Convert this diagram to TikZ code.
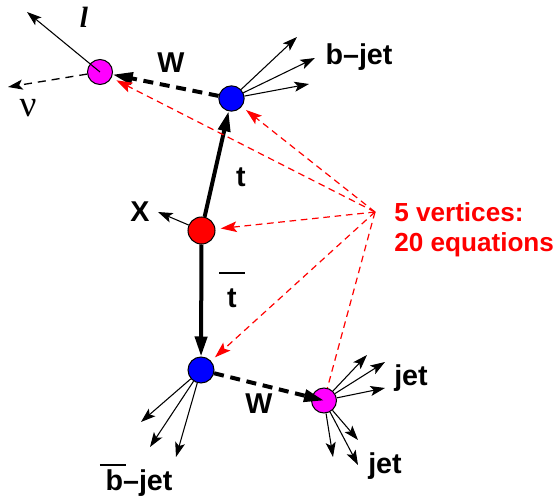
\documentclass[tikz,border=0pt]{standalone}
\usepackage{fontspec}
\setmainfont{Liberation Sans}
\newfontfamily\serifface{Liberation Serif}
\usetikzlibrary{arrows.meta,calc}
\definecolor{vmag}{RGB}{255,0,255}

\begin{document}
\begin{tikzpicture}[x=0.75pt,y=-0.75pt,
  vertex/.style={circle,draw,line width=0.75pt,inner sep=0pt,minimum size=18.75pt},
  lab/.style={font=\bfseries\fontsize{21.5}{24}\selectfont,inner sep=0pt,anchor=base},
  note/.style={font=\bfseries\fontsize{19.6}{22}\selectfont,text=red,inner sep=0pt,anchor=base west},
  quark/.style={line width=3pt,-{Triangle[length=15pt,width=9pt]}},
  wboson/.style={line width=3pt,dash pattern=on 7.5pt off 5pt,-{Triangle[length=15pt,width=9pt]}},
  jetarr/.style={line width=0.8pt,-{Stealth[length=11pt,width=7.5pt,inset=2.5pt]}},
  constr/.style={red,line width=0.9pt,dash pattern=on 5pt off 3.5pt,
    -{Stealth[length=12pt,width=8pt,inset=2.5pt]},shorten >=4pt}]
  \useasboundingbox (0,0) rectangle (554,499);
  % Vertices
  \node[vertex,fill=vmag] (wlep) at (100,72) {};
  \node[vertex,fill=blue,minimum size=19pt] (btop) at (231.5,98.5) {};
  \node[vertex,fill=red,minimum size=20.25pt] (prod) at (201.5,230.5) {};
  \node[vertex,fill=blue,minimum size=19.5pt] (bbot) at (201,370) {};
  \node[vertex,fill=vmag] (whad) at (324,400.5) {};
  % Free ends of the outgoing particles
  \coordinate (lep) at (27,12);
  \coordinate (nu) at (8,87);
  \coordinate (x) at (158,212);
  \coordinate (bj1) at (297,37);
  \coordinate (bj2) at (315,58);
  \coordinate (bj3) at (309,84);
  \coordinate (bb1) at (141,422);
  \coordinate (bb2) at (150,447);
  \coordinate (bb3) at (176,457);
  \coordinate (hj1) at (367,355);
  \coordinate (hj2) at (385,362);
  \coordinate (hj3) at (385,388);
  \coordinate (hj4) at (333,457);
  \coordinate (hj5) at (358,440);
  \coordinate (hj6) at (358,465);
  \coordinate (meet) at (375,212);
  % Quarks and W bosons
  \draw[quark] (prod) -- (btop);
  \draw[quark] (prod) -- (bbot);
  \draw[wboson] (btop) -- (wlep);
  \draw[wboson] (bbot) -- (whad.center);
  % Decay products
  \draw[jetarr] (wlep.center) -- (lep);
  \draw[jetarr,line width=1pt,dash pattern=on 6pt off 4.5pt] (wlep) -- (nu);
  \draw[jetarr] (prod) -- (x);
  \foreach \j in {bj1,bj2,bj3} \draw[jetarr] (btop) -- (\j);
  \foreach \j in {bb1,bb2,bb3} \draw[jetarr] (bbot) -- (\j);
  \foreach \j in {hj1,hj2,hj3,hj4,hj5,hj6} \draw[jetarr] (whad) -- (\j);
  % Constraint pointers
  \foreach \v in {wlep,btop,prod,bbot} \draw[constr] (meet) -- (\v);
  \draw[constr,-,shorten >=0pt] (meet) -- (whad);
  % Labels
  \node[font=\serifface\bfseries\itshape\fontsize{22}{24}\selectfont,inner sep=0pt,anchor=base] (llab) at (84,28) {l};
  \node[font=\serifface\fontsize{28}{30}\selectfont,inner sep=0pt,anchor=base] (nulab) at (28,117) {ν};
  \node[lab] (wtop) at (171,73) {W};
  \node[lab] (bjet) at (359,65) {b--jet};
  \node[lab] (tq) at (241,187) {t};
  \node[lab] (xlab) at (140,222) {X};
  \node[lab] (tbar) at (232,308) {\rlap{\hspace{-0.28em}\rule[1.2em]{0.9em}{0.07em}}t};
  \node[lab] (wbot) at (259,413) {W};
  \node[lab] (jettop) at (411,385) {jet};
  \node[lab] (jetbot) at (385,473) {jet};
  \node[lab] (bbar) at (139,490) {\rlap{\hspace{-0.2em}\rule[0.84em]{0.9em}{0.07em}}b--jet};
  \node[note] (note1) at (394,222) {5 vertices:};
  \node[note] (note2) at (394,252) {20 equations};
\end{tikzpicture}
\end{document}
